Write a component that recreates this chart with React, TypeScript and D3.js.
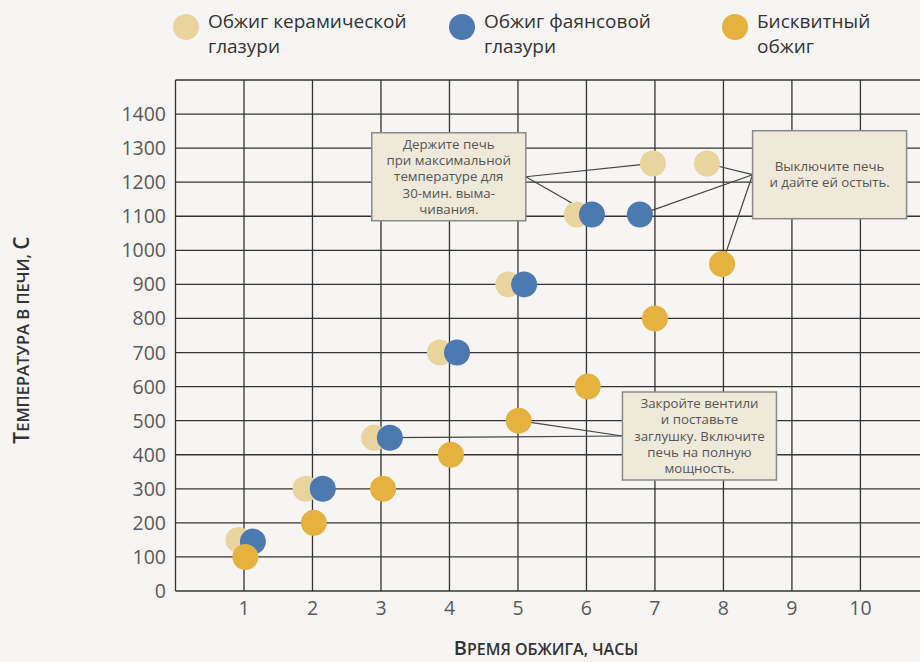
import { useEffect, useRef } from 'react'
import * as d3 from 'd3'

const X_TICKS = [1, 2, 3, 4, 5, 6, 7, 8, 9, 10]
const Y_TICKS = [0, 100, 200, 300, 400, 500, 600, 700, 800, 900, 1000, 1100, 1200, 1300, 1400]
const CERAMIC_X = [0.92, 1.9, 2.9, 3.86, 4.86, 5.86, 6.97, 7.76]
const CERAMIC_Y = [150, 300, 450, 700, 900, 1105, 1255, 1255]
const FAIENCE_X = [1.13, 2.15, 3.13, 4.11, 5.09, 6.08, 6.78]
const FAIENCE_Y = [145, 300, 450, 700, 900, 1105, 1105]
const BISQUE_X = [1.02, 2.02, 3.03, 4.02, 5.01, 6.02, 7.0, 7.98]
const BISQUE_Y = [100, 200, 300, 400, 500, 600, 800, 960]
const SERIES = [
  { name: ['Обжиг керамической', 'глазури'], xs: CERAMIC_X, ys: CERAMIC_Y, color: '#e8d49c' },
  { name: ['Обжиг фаянсовой', 'глазури'], xs: FAIENCE_X, ys: FAIENCE_Y, color: '#4b79b0' },
  { name: ['Бисквитный', 'обжиг'], xs: BISQUE_X, ys: BISQUE_Y, color: '#e5b23f' },
]
// notes: box centre in data units, side the leader lines leave from, targets = [series, index]
const NOTES = [
  { lines: ['Держите печь', 'при максимальной', 'температуре для', '30-мин. выма-', 'чивания.'], cx: 3.99, cy: 1216, side: 'right', targets: [[0, 6], [1, 5]] },
  { lines: ['Выключите печь', 'и дайте ей остыть.'], cx: 9.55, cy: 1222, side: 'left', targets: [[0, 7], [1, 6], [2, 7]] },
  { lines: ['Закройте вентили', 'и поставьте', 'заглушку. Включите', 'печь на полную', 'мощность.'], cx: 7.65, cy: 455, side: 'left', targets: [[2, 4], [1, 2]] },
]

export default function App() {
  const ref = useRef<SVGSVGElement>(null)
  useEffect(() => {
    document.body.style.margin = '0'
    const W = 920, H = 662
    const svg = d3.select(ref.current)
    svg.selectAll('*').remove()
    svg.append('rect').attr('width', W).attr('height', H).attr('fill', '#f6f5f3')
    const font = "'Open Sans', 'Noto Sans', sans-serif"
    const x = d3.scaleLinear().domain([0, 10.87]).range([175.5, W])
    const y = d3.scaleLinear().domain([0, 1500]).range([591, 80])

    const grid = svg.append('g').attr('stroke', '#333').attr('stroke-width', 1.3)
    grid.selectAll('line.h').data(Y_TICKS.concat([1500])).join('line').attr('class', 'h')
      .attr('x1', x(0)).attr('x2', W).attr('y1', d => y(d)).attr('y2', d => y(d))
    grid.selectAll('line.v').data([0].concat(X_TICKS)).join('line').attr('class', 'v')
      .attr('x1', d => x(d)).attr('x2', d => x(d)).attr('y1', y(0)).attr('y2', y(1500))

    svg.append('g').selectAll('text').data(Y_TICKS).join('text')
      .attr('x', 166).attr('y', d => y(d)).attr('dy', '0.36em').attr('text-anchor', 'end')
      .attr('font-family', font).attr('font-size', 19.5).attr('fill', '#5a5a5a').text(d => d)
    svg.append('g').selectAll('text').data(X_TICKS).join('text')
      .attr('x', d => x(d)).attr('y', 615).attr('text-anchor', 'middle')
      .attr('font-family', font).attr('font-size', 19.5).attr('fill', '#5a5a5a').text(d => d)

    // axis titles in small caps
    const yt = svg.append('text').attr('transform', 'translate(29,340) rotate(-90)').attr('text-anchor', 'middle')
      .attr('font-family', font).attr('font-weight', 600).attr('fill', '#333')
    yt.append('tspan').attr('font-size', 21).text('Т')
    yt.append('tspan').attr('font-size', 16.5).text('ЕМПЕРАТУРА В ПЕЧИ, ')
    yt.append('tspan').attr('font-size', 21).text('С')
    const xt = svg.append('text').attr('x', 546).attr('y', 655).attr('text-anchor', 'middle')
      .attr('font-family', font).attr('font-weight', 600).attr('fill', '#333')
    xt.append('tspan').attr('font-size', 20).text('В')
    xt.append('tspan').attr('font-size', 16).text('РЕМЯ ОБЖИГА, ЧАСЫ')

    const boxW = 154, boxH = 88
    const links = svg.append('g').attr('stroke', '#444').attr('stroke-width', 1.2)
    NOTES.forEach(n => {
      const ax = n.side === 'right' ? x(n.cx) + boxW / 2 : x(n.cx) - boxW / 2
      n.targets.forEach(([s, i]) => {
        links.append('line').attr('x1', ax).attr('y1', y(n.cy))
          .attr('x2', x(SERIES[s].xs[i])).attr('y2', y(SERIES[s].ys[i]))
      })
    })

    SERIES.forEach(s => {
      svg.append('g').selectAll('circle').data(s.xs).join('circle')
        .attr('cx', d => x(d)).attr('cy', (_, i) => y(s.ys[i])).attr('r', 13).attr('fill', s.color)
    })

    NOTES.forEach(n => {
      const g = svg.append('g').attr('transform', `translate(${x(n.cx)},${y(n.cy)})`)
      g.append('rect').attr('x', -boxW / 2).attr('y', -boxH / 2).attr('width', boxW).attr('height', boxH)
        .attr('fill', '#efe9da').attr('stroke', '#8a8a8a').attr('stroke-width', 1.5)
      const lh = 16.2
      g.selectAll('text').data(n.lines).join('text')
        .attr('x', 0).attr('y', (_, i) => (i - (n.lines.length - 1) / 2) * lh).attr('dy', '0.35em')
        .attr('text-anchor', 'middle').attr('font-family', font).attr('font-size', 13.3).attr('fill', '#555')
        .text(d => d)
    })

    // legend
    const legX = [186, 462, 735]
    SERIES.forEach((s, k) => {
      const g = svg.append('g').attr('transform', `translate(${legX[k]},27)`)
      g.append('circle').attr('r', 13).attr('fill', s.color)
      g.selectAll('text').data(s.name).join('text')
        .attr('x', 22).attr('y', (_, i) => -6 + i * 25).attr('dy', '0.35em')
        .attr('font-family', font).attr('font-size', 19).attr('fill', '#333').text(d => d)
    })
  }, [])
  return <svg ref={ref} width={920} height={662} style={{ display: 'block' }} />
}
